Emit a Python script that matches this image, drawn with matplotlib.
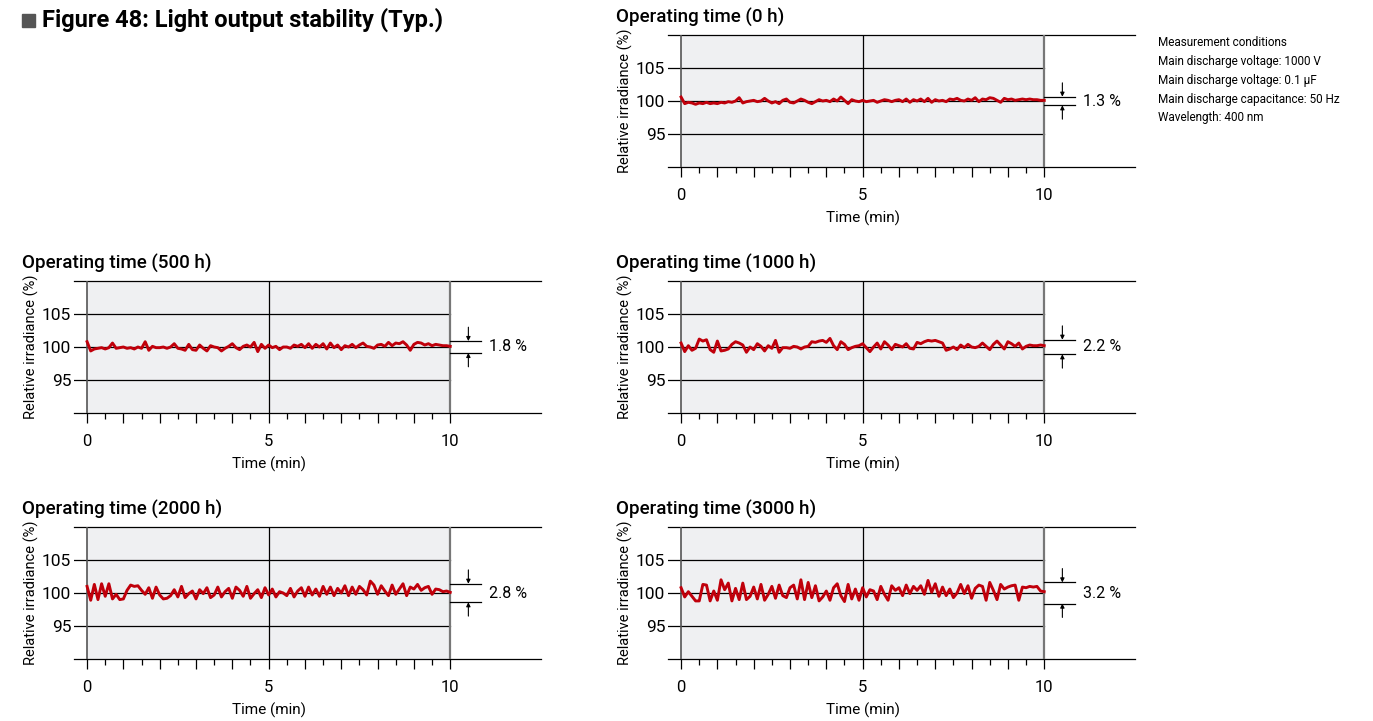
import matplotlib.pyplot as plt
from matplotlib.patches import Rectangle
from matplotlib.transforms import blended_transform_factory

plt.rcParams['font.family'] = ['Roboto', 'DejaVu Sans']

# sample times (min), one reading every 0.1 min
time_min = [i / 10 for i in range(101)]

irr_0h = [100.6, 99.6, 99.8, 99.7, 99.5, 99.7, 99.6, 99.8, 99.6, 99.7,
          99.6, 99.8, 99.7, 99.9, 99.8, 100.0, 100.5, 99.7, 99.9, 100.0,
          100.1, 99.9, 100.0, 100.4, 100.0, 99.7, 99.9, 99.6, 100.1, 100.3,
          99.8, 99.7, 100.0, 100.3, 100.1, 99.8, 99.6, 99.9, 100.2, 100.0,
          100.1, 99.9, 100.3, 100.0, 100.6, 100.1, 99.6, 100.2, 100.0, 99.9,
          100.1, 99.9, 100.0, 100.1, 99.8, 100.0, 100.2, 100.1, 99.9, 100.1,
          100.2, 99.9, 100.3, 99.8, 100.2, 100.0, 100.3, 99.9, 100.4, 99.8,
          100.2, 100.0, 100.1, 99.9, 100.3, 100.2, 100.4, 100.1, 100.0, 100.3,
          100.1, 100.5, 99.9, 100.3, 100.2, 100.5, 100.4, 100.1, 99.8, 100.4,
          100.2, 100.3, 100.1, 100.2, 100.3, 100.2, 100.3, 100.2, 100.2, 100.1, 100.1]

irr_500h = [100.8, 99.4, 99.7, 99.8, 99.9, 99.7, 99.9, 100.6, 99.8, 99.9,
            100.0, 99.8, 99.9, 99.7, 100.0, 99.8, 100.8, 99.5, 100.1, 99.9,
            99.9, 100.0, 99.8, 100.0, 100.5, 99.8, 99.7, 99.5, 100.4, 99.6,
            99.5, 100.3, 99.8, 99.4, 100.2, 100.0, 99.9, 99.4, 99.8, 100.1,
            100.5, 99.9, 99.6, 100.1, 100.3, 100.0, 100.7, 99.3, 100.4, 99.8,
            100.3, 99.9, 100.1, 99.6, 100.0, 100.0, 99.8, 100.3, 100.1, 100.4,
            99.9, 100.5, 99.8, 100.4, 100.0, 100.5, 99.7, 100.6, 99.9, 100.3,
            99.6, 100.2, 100.0, 100.4, 99.9, 100.3, 100.6, 100.1, 100.0, 99.8,
            100.3, 100.4, 100.1, 100.7, 100.2, 100.6, 100.5, 100.8, 100.3, 99.5,
            100.4, 100.7, 100.6, 100.3, 100.5, 100.2, 100.4, 100.3, 100.2, 100.2, 100.1]

irr_1000h = [100.6, 99.3, 100.2, 99.5, 99.8, 101.2, 100.9, 101.1, 99.6, 99.2,
             100.9, 99.4, 99.5, 99.7, 100.4, 100.8, 100.6, 100.3, 99.2, 100.0,
             99.6, 100.5, 100.1, 99.4, 100.2, 99.8, 101.0, 99.2, 99.9, 99.9,
             99.8, 100.1, 100.0, 99.7, 100.0, 100.1, 100.8, 100.7, 100.9, 101.0,
             100.7, 101.3, 100.2, 99.6, 100.8, 100.4, 99.6, 99.9, 100.1, 100.2,
             100.5, 99.9, 99.3, 100.0, 100.6, 99.7, 100.8, 100.3, 99.6, 100.4,
             100.2, 100.0, 100.5, 99.8, 99.7, 100.7, 100.5, 100.8, 101.0, 100.9,
             101.0, 100.8, 100.6, 99.5, 99.7, 100.0, 99.6, 100.3, 99.9, 100.4,
             100.0, 99.9, 100.1, 100.6, 100.1, 99.6, 100.4, 100.9, 100.3, 99.7,
             100.8, 100.5, 100.1, 100.6, 99.7, 100.1, 100.3, 100.2, 100.2, 100.3, 100.2]

irr_2000h = [101.0, 98.9, 101.3, 99.0, 101.4, 99.5, 101.4, 99.1, 99.8, 99.0,
             99.1, 100.4, 101.2, 101.0, 101.1, 100.4, 99.8, 100.8, 99.2, 100.9,
             99.7, 99.1, 99.2, 99.6, 100.5, 99.4, 101.0, 99.3, 99.9, 100.3,
             99.1, 100.5, 99.9, 100.8, 99.3, 99.7, 100.9, 99.4, 100.2, 100.7,
             99.2, 100.9, 100.4, 99.5, 101.0, 99.2, 99.9, 100.5, 99.3, 100.8,
             99.7, 100.6, 99.4, 100.2, 100.0, 99.6, 100.7, 99.4, 100.3, 100.8,
             99.5, 100.9, 99.7, 100.6, 99.5, 101.0, 99.8, 100.9, 99.6, 100.7,
             100.0, 101.1, 99.6, 100.9, 99.8, 101.0, 100.5, 99.7, 101.8, 101.2,
             99.8, 101.1, 100.3, 99.6, 101.2, 99.8, 100.6, 101.4, 99.6, 100.9,
             100.6, 101.3, 100.4, 100.8, 101.0, 99.8, 100.6, 100.5, 100.2, 100.3, 100.1]

irr_3000h = [100.8, 99.4, 100.2, 99.5, 98.8, 98.8, 101.3, 101.2, 98.8, 100.3,
             98.9, 102.0, 100.5, 101.5, 98.8, 100.7, 99.0, 101.5, 99.0, 99.5,
             100.9, 99.1, 101.3, 98.9, 99.8, 101.0, 99.2, 101.2, 99.6, 99.3,
             100.8, 101.2, 99.1, 102.0, 99.0, 101.6, 99.3, 101.1, 98.8, 99.4,
             100.3, 98.9, 100.8, 101.4, 99.6, 98.7, 101.3, 99.1, 100.6, 98.9,
             100.8, 99.4, 100.5, 100.3, 99.0, 101.0, 99.8, 98.9, 101.1, 100.4,
             100.8, 99.6, 101.2, 99.9, 101.0, 100.4, 101.1, 99.8, 101.9, 100.1,
             101.4, 99.5, 100.9, 99.6, 100.6, 99.3, 100.0, 101.3, 99.9, 101.1,
             99.2, 100.7, 101.2, 101.0, 98.9, 101.6, 100.4, 99.0, 101.3, 100.6,
             100.9, 101.1, 101.2, 98.9, 100.9, 100.8, 101.0, 100.9, 101.0, 100.3, 100.2]

titles = ['Operating time (0 h)', 'Operating time (500 h)', 'Operating time (1000 h)',
          'Operating time (2000 h)', 'Operating time (3000 h)']
series = [irr_0h, irr_500h, irr_1000h, irr_2000h, irr_3000h]
spreads = [1.3, 1.8, 2.2, 2.8, 3.2]
yticks = [95, 100, 105]
conditions = ['Measurement conditions',
              'Main discharge voltage: 1000 V',
              'Main discharge voltage: 0.1 \u00b5F',
              'Main discharge capacitance: 50 Hz',
              'Wavelength: 400 nm']

W, H = 1373, 721
fig = plt.figure(figsize=(W / 100, H / 100), dpi=100)

# panel placement in pixels (axes left, axes top)
places = [(668, 35), (74, 281), (668, 281), (74, 527), (668, 527)]
AW, AH = 467, 132
XL, XR = -0.36, 12.5
RED = '#c0000b'

for title, vals, spread, (left, top) in zip(titles, series, spreads, places):
    ax = fig.add_axes([left / W, 1 - (top + AH) / H, AW / W, AH / H])
    ax.set_xlim(XL, XR)
    ax.set_ylim(90, 110)
    ax.axvspan(0, 10, color='#eff0f2', lw=0, zorder=0)
    for y in yticks:
        ax.plot([XL, 10], [y, y], color='black', lw=0.9, zorder=1)
    for y in (90, 110):
        ax.plot([XL, XR], [y, y], color='black', lw=0.9, zorder=1, clip_on=False)
    ax.plot([0, 0], [90, 110], color='#555555', lw=1.2, zorder=1)
    ax.plot([5, 5], [90, 110], color='black', lw=0.9, zorder=1)
    ax.plot([10, 10], [90, 110], color='#777777', lw=1.6, zorder=1)
    ax.plot(time_min, vals, color=RED, lw=2.1, zorder=3)

    # spread marker on the right
    hi, lo = 100 + spread / 2, 100 - spread / 2
    ax.plot([10, 10.85], [hi, hi], color='black', lw=0.9)
    ax.plot([10, 10.85], [lo, lo], color='black', lw=0.9)
    ax.annotate('', xy=(10.5, hi), xytext=(10.5, hi + 2.1),
                arrowprops=dict(arrowstyle='-|>', color='black', lw=0.8, mutation_scale=6,
                                shrinkA=0, shrinkB=0))
    ax.annotate('', xy=(10.5, lo), xytext=(10.5, lo - 2.1),
                arrowprops=dict(arrowstyle='-|>', color='black', lw=0.8, mutation_scale=6,
                                shrinkA=0, shrinkB=0))
    ax.text(11.07, 100, f'{spread} %', fontsize=11.5, va='center', ha='left')

    for s in ax.spines.values():
        s.set_visible(False)
    ax.set_xticks(range(11))
    ax.set_xticklabels(['0', '', '', '', '', '5', '', '', '', '', '10'])
    ax.set_xticks([i + 0.5 for i in range(10)], minor=True)
    ax.tick_params(axis='x', which='major', length=7, width=0.9, pad=8, labelsize=12)
    ax.tick_params(axis='x', which='minor', length=4, width=0.9)
    ax.set_yticks(yticks)
    ax.tick_params(axis='y', length=0, pad=2, labelsize=12.5)

    tr = blended_transform_factory(ax.transData, ax.transAxes)
    ax.text(5, -0.39, 'Time (min)', transform=tr, ha='center', va='center', fontsize=11)
    ax.text(-43 / AW, 0.5, 'Relative irradiance (%)', transform=ax.transAxes,
            rotation=90, ha='center', va='center', fontsize=10.5)
    fig.text((left - 52) / W, 1 - (top - 18) / H, title, fontsize=13.5,
             fontweight='medium', ha='left', va='center')

# figure heading with grey square
fig.patches.append(Rectangle((22 / W, 1 - 27 / H), 13 / W, 13 / H, color='#555555',
                             transform=fig.transFigure))
fig.text(42 / W, 1 - 20 / H, 'Figure 48: Light output stability (Typ.)', fontsize=17,
         fontweight='bold', ha='left', va='center')

for i, line in enumerate(conditions):
    fig.text(1158 / W, 1 - (43 + i * 18.7) / H, line, fontsize=8.5, ha='left', va='center')

fig.savefig('out.png', dpi=100)
